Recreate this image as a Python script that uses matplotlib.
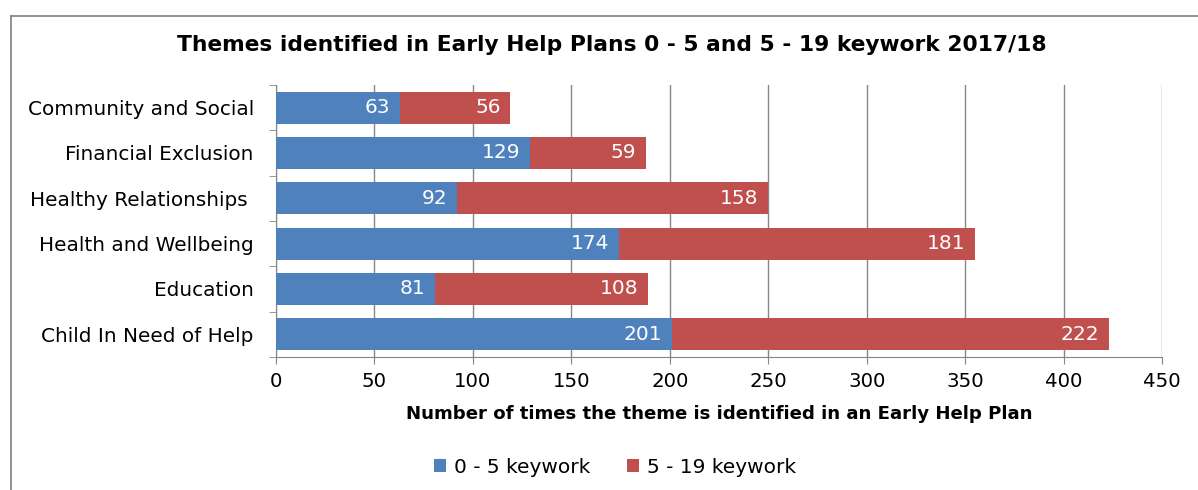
import numpy as np
from matplotlib import pyplot as plt
from matplotlib.lines import Line2D

# データ
categories = ["Community and Social", "Financial Exclusion", "Healthy Relationships ",
              "Health and Wellbeing", "Education", "Child In Need of Help"]
early_years = [63, 129, 92, 174, 81, 201]   # 0 - 5 keywork
older = [56, 59, 158, 181, 108, 222]         # 5 - 19 keywork

blue = "#4F81BD"
red = "#C0504D"
grid_c = "#868686"

plt.rcParams["font.family"] = ["DejaVu Sans"]

fig = plt.figure(figsize=(11.98, 4.9), dpi=100)
ax = fig.add_axes([276 / 1198, 1 - 357 / 490, 886 / 1198, 272 / 490])

y = np.arange(len(categories))
h = 0.70
ax.barh(y, early_years, height=h, color=blue, label="0 - 5 keywork", zorder=3)
ax.barh(y, older, left=early_years, height=h, color=red, label="5 - 19 keywork", zorder=3)

# 値ラベル (棒の内側右端)
for i in range(len(categories)):
    ax.annotate(str(early_years[i]), (early_years[i], y[i]), xytext=(-7, 0),
                textcoords="offset points", ha="right", va="center",
                color="white", fontsize=14.5, zorder=4)
    ax.annotate(str(older[i]), (early_years[i] + older[i], y[i]), xytext=(-7, 0),
                textcoords="offset points", ha="right", va="center",
                color="white", fontsize=14.5, zorder=4)

ax.set_xlim(0, 450)
ax.set_xticks(np.arange(0, 451, 50))
ax.set_ylim(len(categories) - 0.5, -0.5)
ax.set_yticks(y)
ax.set_yticklabels(categories, fontsize=14.4)
ax.set_yticks(np.arange(-0.5, len(categories)), minor=True)
ax.tick_params(axis="y", which="major", length=0, pad=16)
ax.tick_params(axis="y", which="minor", length=5, color=grid_c)
ax.tick_params(axis="x", length=5, color=grid_c, labelsize=14.2, pad=6)
ax.grid(axis="x", color=grid_c, linewidth=1, zorder=0)
for s in ["top", "right"]:
    ax.spines[s].set_visible(False)
for s in ["left", "bottom"]:
    ax.spines[s].set_color(grid_c)

ax.set_xlabel("Number of times the theme is identified in an Early Help Plan",
              fontsize=13.1, fontweight="bold", labelpad=10)
fig.text(612 / 1198, 1 - 45 / 490,
         "Themes identified in Early Help Plans 0 - 5 and 5 - 19 keywork 2017/18",
         ha="center", va="center", fontsize=15.7, fontweight="bold")

ax.legend(loc="center", bbox_to_anchor=(615 / 1198, 1 - 467 / 490),
          bbox_transform=fig.transFigure, ncol=2, frameon=False, fontsize=14.5,
          handlelength=0.6, handleheight=0.6, handletextpad=0.4, columnspacing=1.8)

# 外枠 (左と上のみ見えている)
fig.add_artist(Line2D([11 / 1198, 11 / 1198], [0, 1 - 16 / 490], color="#7F7F7F", linewidth=1.2))
fig.add_artist(Line2D([11 / 1198, 1], [1 - 16 / 490, 1 - 16 / 490], color="#7F7F7F", linewidth=1.2))

fig.savefig("out.png", dpi=100)
